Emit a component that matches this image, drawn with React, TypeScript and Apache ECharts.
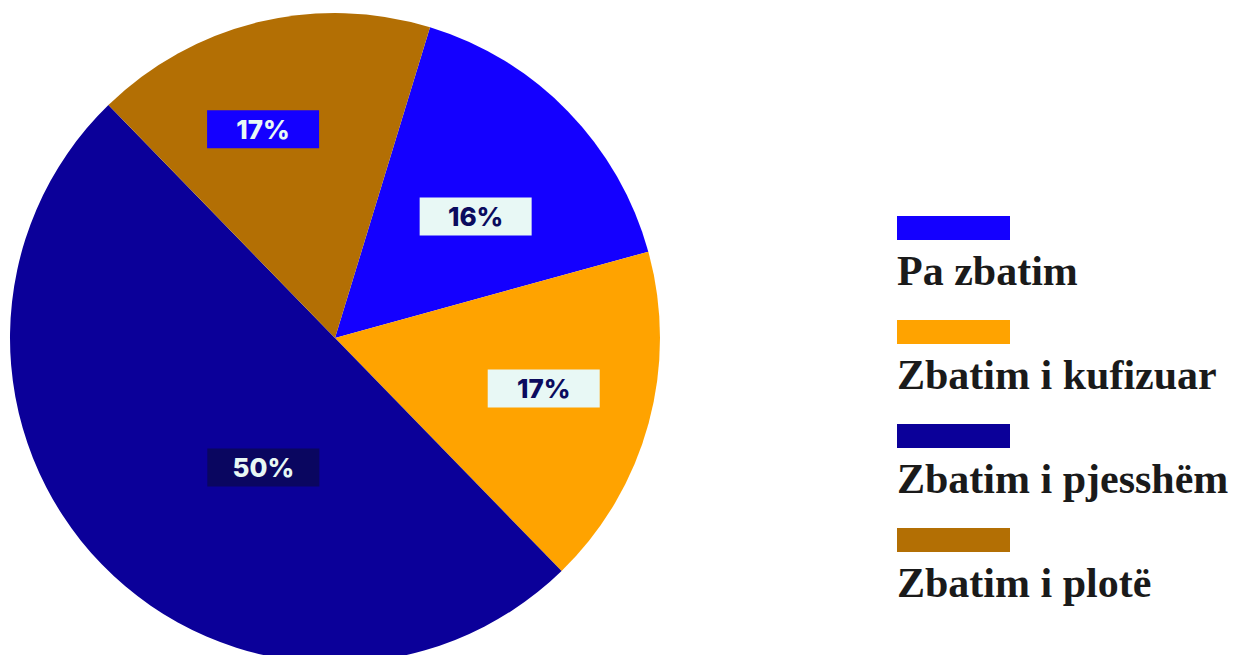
import React, { useEffect, useRef } from "react";
import * as echarts from "echarts";

const categories = ["Pa zbatim", "Zbatim i kufizuar", "Zbatim i pjesshëm", "Zbatim i plotë"];
const values = [16, 17, 50, 17];
const colors = ["#1400ff", "#ffa300", "#0b0099", "#b36f04"];
const labelBg = ["#e8f8f5", "#e8f8f5", "#0a0660", "#1400ff"];
const labelFg = ["#0b0b5e", "#0b0b5e", "#e8f8f5", "#e8f8f5"];
const labelShift = [
  [22, -6],
  [49, 7],
  [47, 14],
  [-33, -48],
];

export default function App() {
  const ref = useRef<HTMLDivElement>(null);
  useEffect(() => {
    document.body.style.margin = "0";
    const chart = echarts.init(ref.current!, null, { renderer: "svg" });
    const legendTop = 216;
    const legendStep = 104;
    const graphic: any[] = [];
    categories.forEach((c, i) => {
      graphic.push({
        type: "rect",
        shape: { x: 897, y: legendTop + i * legendStep, width: 113, height: 24 },
        style: { fill: colors[i] },
      });
      graphic.push({
        type: "text",
        x: 897,
        y: legendTop + i * legendStep + 76,
        style: {
          text: c,
          fill: "#1a1a1a",
          font: 'bold 42px "Liberation Serif", serif',
          textVerticalAlign: "bottom",
        },
      });
    });
    chart.setOption({
      animation: false,
      graphic,
      series: [
        {
          type: "pie",
          center: [335, 338],
          radius: 325,
          startAngle: 73,
          clockwise: true,
          data: categories.map((c, i) => ({
            name: c,
            value: values[i],
            itemStyle: { color: colors[i] },
            label: { backgroundColor: labelBg[i], color: labelFg[i] },
          })),
          label: {
            show: true,
            position: "inside",
            formatter: "{d}%",
            fontFamily: "Inter",
            fontWeight: 800,
            fontSize: 26,
            width: 112,
            height: 38,
            lineHeight: 38,
            align: "center",
            verticalAlign: "middle",
          },
          labelLayout: (p: any) => ({ dx: labelShift[p.dataIndex][0], dy: labelShift[p.dataIndex][1] }),
          labelLine: { show: false },
          emphasis: { disabled: true },
        },
      ],
    });
    return () => chart.dispose();
  }, []);
  return <div ref={ref} style={{ width: 1242, height: 655 }} />;
}
